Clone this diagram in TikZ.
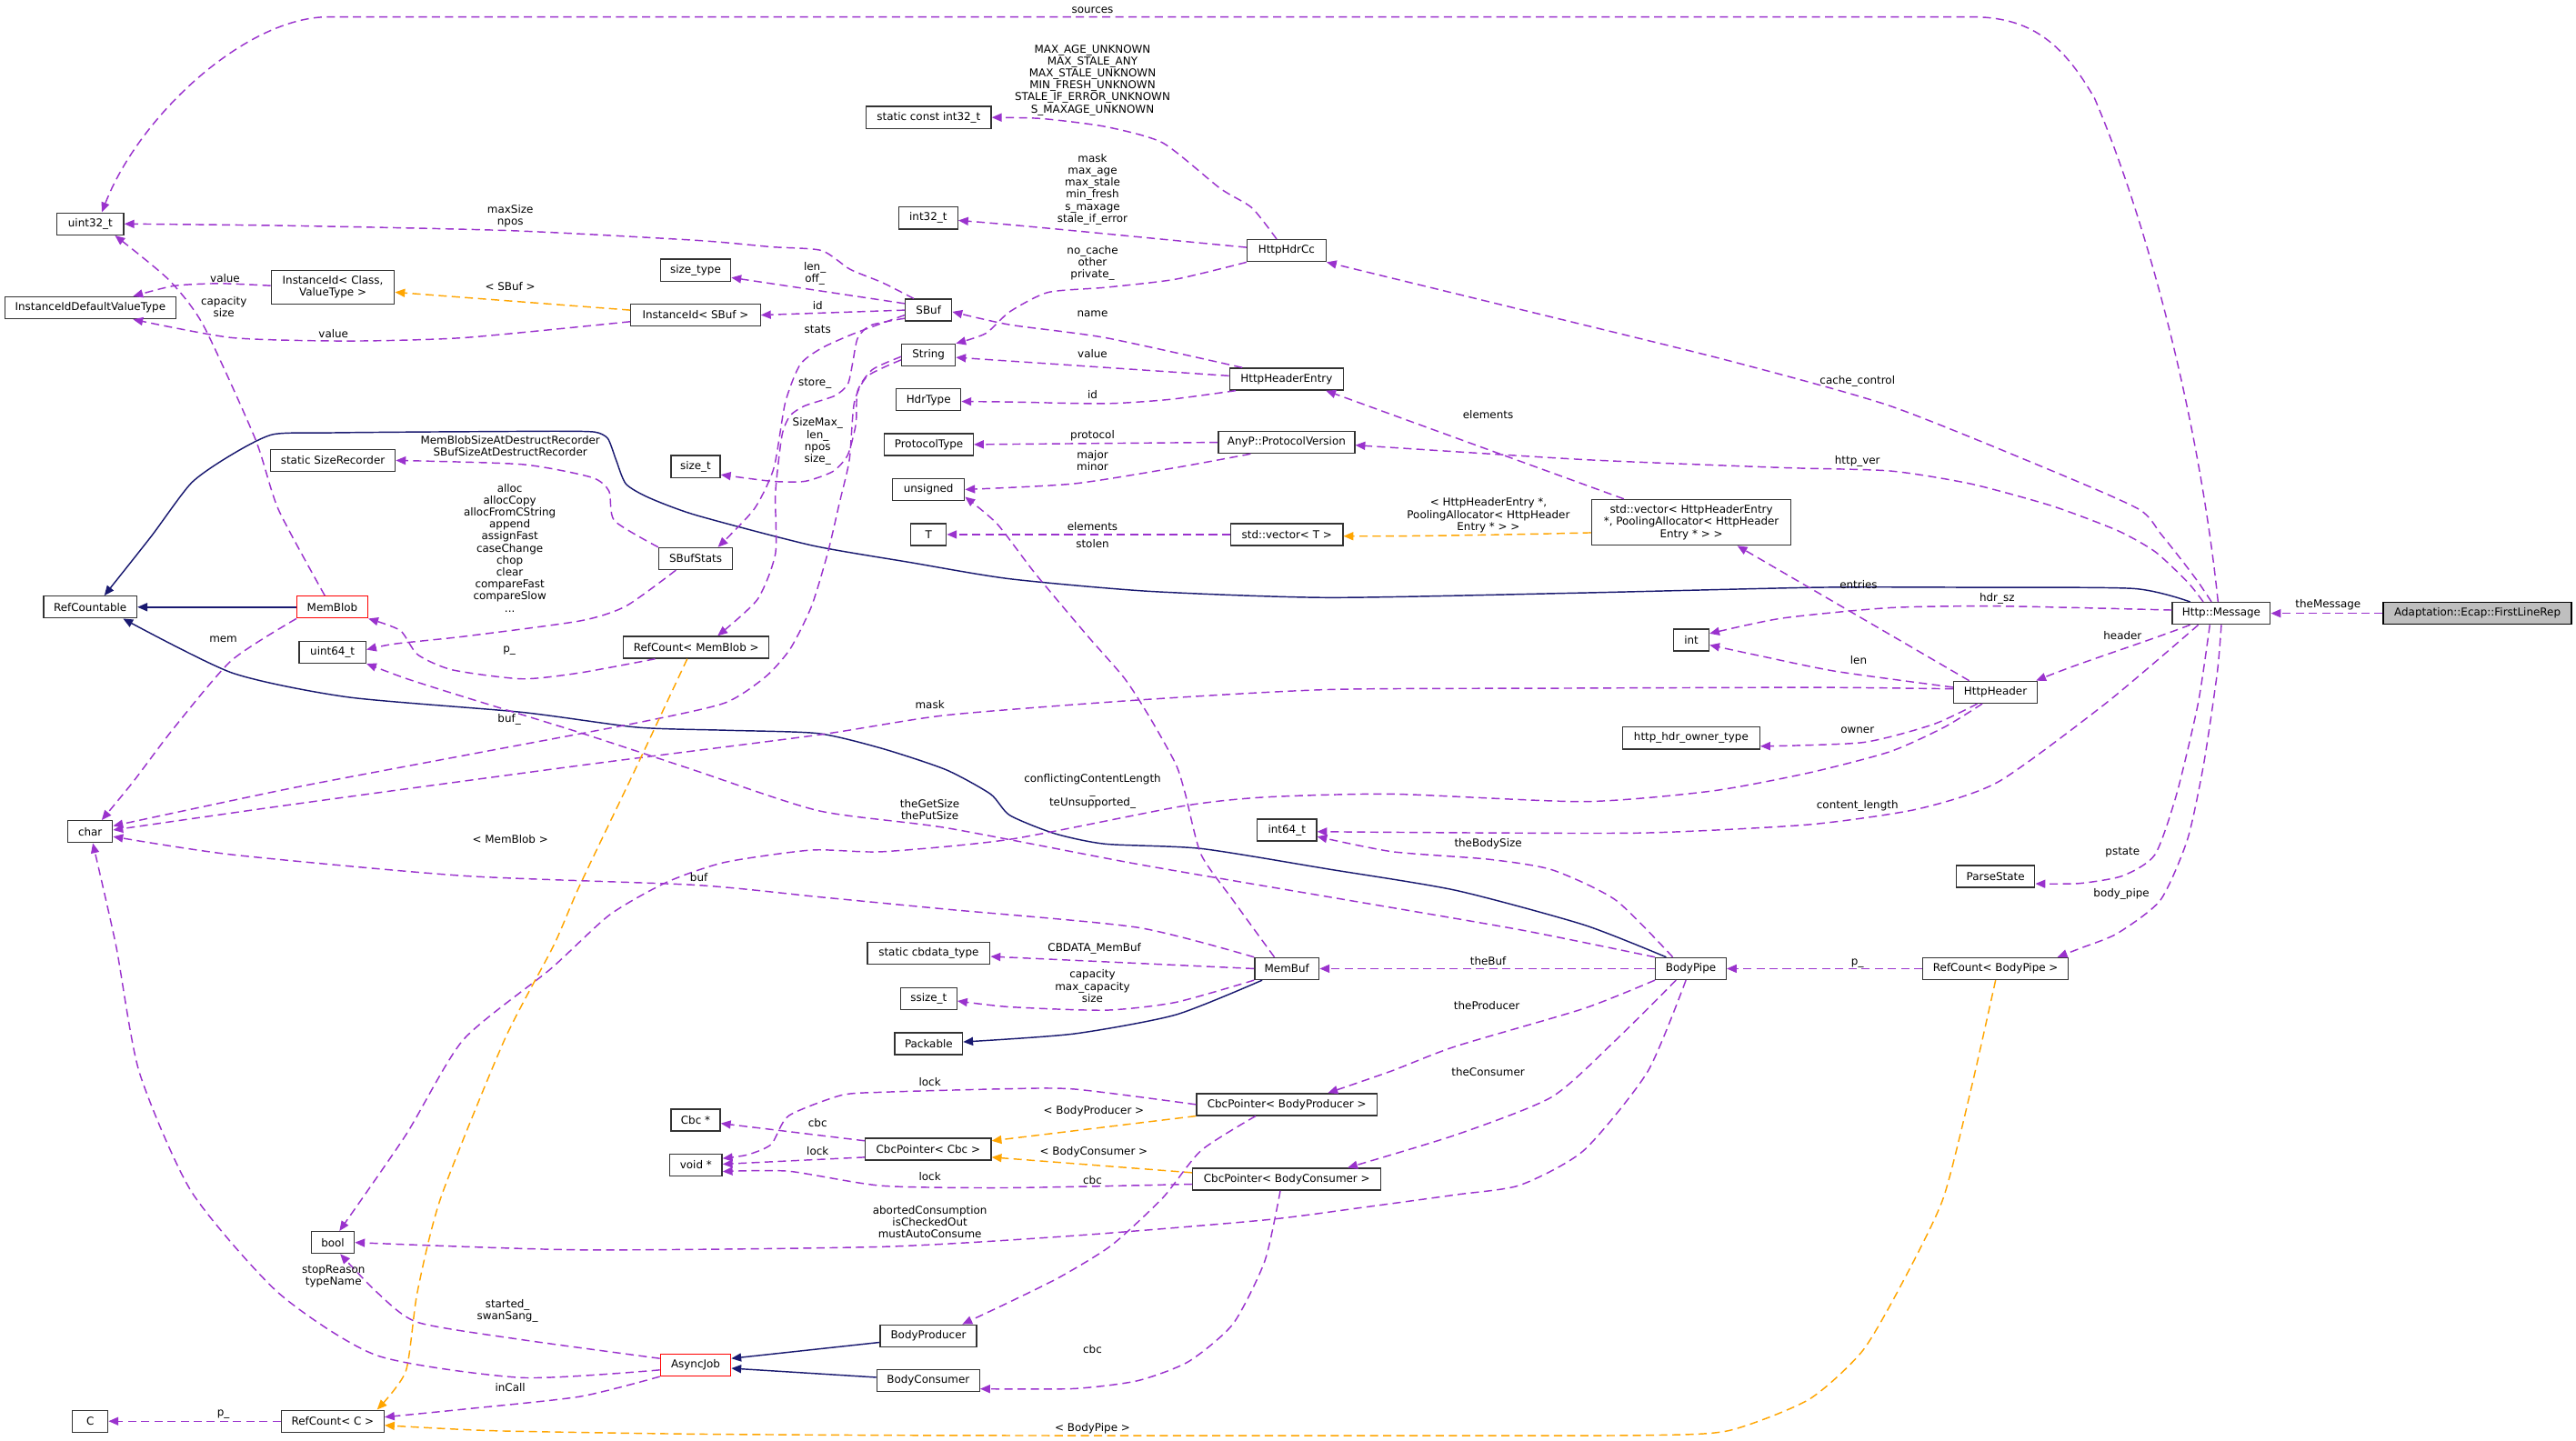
\documentclass[tikz,border=0pt]{standalone}
\usepackage{fontspec}
\setmainfont{DejaVu Sans}
\usetikzlibrary{arrows.meta}
\definecolor{purp}{HTML}{9A32CD}
\definecolor{orng}{HTML}{FFA500}
\definecolor{mblue}{HTML}{191970}
\definecolor{boxgray}{HTML}{BFBFBF}
\begin{document}
\begin{tikzpicture}[x=1pt,y=-1pt,font=\fontsize{6.6pt}{7.3pt}\selectfont,
  box/.style={draw=black!80,line width=0.75pt,fill=white,inner xsep=2pt,inner ysep=3.4pt,minimum height=13.3pt,align=center},
  redbox/.style={box,draw=red},
  graybox/.style={box,draw=black,fill=boxgray},
  mw/.style={minimum width=#1},
  lbl/.style={inner sep=0pt,align=center},
  ed/.style={color=purp,line width=0.8pt,dash pattern=on 5pt off 3pt,-{Triangle[length=6pt,width=5pt]}},
  tp/.style={ed,color=orng},
  inh/.style={color=mblue,line width=0.8pt,-{Triangle[length=6pt,width=5pt]}},
  sm/.style={smooth,tension=0.4}]
\useasboundingbox (0,0) rectangle (1568,877);
\fill[white] (0,0) rectangle (1568,877);

% ---------------- nodes
\node[box,mw=40.6pt] (nu32) at (55,136.3) {uint32\_t};
\node[box,mw=104pt] (niidv) at (55,187.4) {InstanceIdDefaultValueType};
\node[box,mw=75pt] (niidcv) at (202.6,174.9) {InstanceId< Class,\\ValueType >};
\node[box,mw=78.8pt] (niids) at (423.4,191.8) {InstanceId< SBuf >};
\node[box,mw=42.8pt] (nsizetype) at (423.4,164.5) {size\_type};
\node[box,mw=76pt] (nsizerec) at (202.6,280.3) {static SizeRecorder};
\node[box,mw=30pt] (nsizet) at (423.4,284) {size\_t};
\node[box,mw=76pt] (nsci32) at (565.3,71.5) {static const int32\_t};
\node[box,mw=36pt] (ni32) at (565,132.7) {int32\_t};
\node[box,mw=48pt] (nhdrcc) at (783.1,152.6) {HttpHdrCc};
\node[box,mw=28.2pt] (nsbuf) at (565.2,188.8) {SBuf};
\node[box,mw=32.6pt] (nstring) at (565.2,216.1) {String};
\node[box,mw=39.3pt] (nhdrtype) at (565.2,243.4) {HdrType};
\node[box,mw=54pt] (nprot) at (565.4,270.6) {ProtocolType};
\node[box,mw=43.7pt] (nuns) at (565.2,298) {unsigned};
\node[box,mw=21.6pt] (nT) at (565.2,325.4) {T};
\node[box,mw=69.2pt] (nhhe) at (783.1,230.8) {HttpHeaderEntry};
\node[box,mw=83pt] (napv) at (783.1,269.3) {AnyP::ProtocolVersion};
\node[box,mw=68.2pt] (nvecT) at (783.3,325.4) {std::vector< T >};
\node[box,mw=121.4pt] (nvecH) at (1029.5,318) {std::vector< HttpHeaderEntry\\ *, PoolingAllocator< HttpHeader\\Entry * > >};
\node[box,mw=21.5pt] (nint) at (1029.5,389.7) {int};
\node[box,mw=83.5pt] (nowner) at (1029.4,449.3) {http\_hdr\_owner\_type};
\node[box,mw=59.6pt] (nmsg) at (1352.1,373.4) {Http::Message};
\node[graybox,mw=114.6pt] (nflr) at (1508,373.4) {Adaptation::Ecap::FirstLineRep};
\node[box,mw=50.8pt] (nhdr) at (1214.6,421.4) {HttpHeader};
\node[box,mw=47.7pt] (npstate) at (1214.7,533.5) {ParseState};
\node[box,mw=88.5pt] (nrcbp) at (1214.7,589.7) {RefCount< BodyPipe >};
\node[box,mw=43pt] (nbp) at (1029.2,589.7) {BodyPipe};
\node[box,mw=39.2pt] (nmembuf) at (783.3,589.7) {MemBuf};
\node[box,mw=74.6pt] (ncbdata) at (565.3,580.3) {static cbdata\_type};
\node[box,mw=34.2pt] (nssizet) at (565.3,607.9) {ssize\_t};
\node[box,mw=41.2pt] (npack) at (565.3,635.3) {Packable};
\node[box,mw=109.9pt] (ncbpp) at (783.3,672.4) {CbcPointer< BodyProducer >};
\node[box,mw=76.5pt] (ncbpc) at (565,699.5) {CbcPointer< Cbc >};
\node[box,mw=114.6pt] (ncbpcons) at (783.3,717.9) {CbcPointer< BodyConsumer >};
\node[box,mw=58.6pt] (nbprod) at (565.1,813.2) {BodyProducer};
\node[box,mw=62.5pt] (nbcons) at (565,840.5) {BodyConsumer};
\node[box,mw=30pt] (ncbcptr) at (423.4,681.9) {Cbc *};
\node[box,mw=31.8pt] (nvoid) at (423.6,709.2) {void *};
\node[box,mw=26.1pt] (nbool) at (202.6,756.4) {bool};
\node[redbox,mw=42.8pt] (nasync) at (423.4,831) {AsyncJob};
\node[box,mw=21.6pt] (nC) at (54.9,865.2) {C};
\node[box,mw=62.5pt] (nrcC) at (202.5,865.2) {RefCount< C >};
\node[box,mw=56.8pt] (nrefc) at (54.9,369.6) {RefCountable};
\node[redbox,mw=43.1pt] (nmemblob) at (202.3,369.6) {MemBlob};
\node[box,mw=40.6pt] (nu64) at (202.4,397) {uint64\_t};
\node[box,mw=44.8pt] (nsbs) at (423.4,340.1) {SBufStats};
\node[box,mw=88.6pt] (nrcmb) at (423.8,394.1) {RefCount< MemBlob >};
\node[box,mw=27.2pt] (nchar) at (54.9,506.3) {char};
\node[box,mw=36.1pt] (ni64) at (783.3,505.3) {int64\_t};

% ---------------- inheritance
\draw[inh] plot[sm] coordinates {([xshift=-19pt]nmsg.north) (1298.6,358.3) (1200,357.6) (1107,357.6) (960,361) (808.7,363.8) (700,360) (614.6,352.4) (553.5,342.3) (494,332) (423.6,313.6) (395,303) (381,294.6) (375,280) (370,267) (362,263) (340,262.5) (300,262.7) (250,263) (200,263.5) (166,264.5) (141,276.8) (116.5,294) (92,326.6) ([xshift=8.6pt]nrefc.north)};
\draw[inh] (nmemblob.west) -- (nrefc.east);
\draw[inh] plot[sm] coordinates {([xshift=-15pt]nbp.north) (964,563) (886,542) (808,529) (731,516.6) (672.8,513.8) (641.8,507.4) (614.6,496.3) (602.9,483.4) (575.8,468.6) (537,455.7) (498,446.5) (443,444.6) (388,442.8) (317.7,433.6) (211.8,424.4) (141.2,409.6) ([xshift=20pt]nrefc.south)};
\draw[inh] ([yshift=-4pt]nbprod.west) -- ([yshift=4pt]nasync.east);
\draw[inh] ([yshift=2pt]nbcons.west) -- ([yshift=-2pt]nasync.east);
\draw[inh] plot[sm] coordinates {([xshift=-15pt]nmembuf.south) (715.6,617.8) (653.4,629.4) ([yshift=1pt]npack.east)};

% ---------------- usage (purple)
\draw[ed] ([xshift=-2pt]nmsg.north) .. controls (1338,250) and (1305,130) .. (1275,60) .. controls (1255,25) and (1235,10.3) .. (1200,10.3) -- (200,10.3) .. controls (150,10.3) and (85,70) .. ([xshift=7pt]nu32.north);
\draw[ed] plot[sm] coordinates {([xshift=-6pt]nhdrcc.north) (762,126.5) (742.7,114.7) (707.8,87) (672.8,77.1) (634,72.2) (nsci32.east)};
\draw[ed] ([yshift=2pt]nhdrcc.west) .. controls (700,145) and (620,137) .. ([yshift=-1.5pt]ni32.east);
\draw[ed] plot[sm] coordinates {(nhdrcc.south west) (715.6,170) (672.8,175) (637.9,178) (614.6,189.8) (600,203) (nstring.north east)};
\draw[ed] plot[sm] coordinates {([xshift=8pt]nhhe.north west) (672.8,205.6) (614.6,197.7) ([yshift=-1pt]nsbuf.east)};
\draw[ed] ([yshift=2pt]nhhe.west) -- ([yshift=-1.5pt]nstring.east);
\draw[ed] plot[sm] coordinates {([xshift=4pt]nhhe.south west) (711.7,243.2) (672.8,245.7) (614.6,244.7) ([yshift=-1pt]nhdrtype.east)};
\draw[ed] (napv.west) -- (nprot.east);
\draw[ed] plot[sm] coordinates {([xshift=20pt]napv.south west) (715.6,284.7) (653.4,294.5) (nuns.east)};
\draw[ed] (nvecT.west) -- (nT.east);
\draw[ed] ([xshift=20pt]nvecH.north west) -- ([xshift=-11pt]nhhe.south east);
\draw[ed] ([xshift=-16pt]nhdr.north) -- ([xshift=28pt]nvecH.south);
\draw[ed] plot[sm] coordinates {([yshift=2pt]nmsg.west) (1216.3,369) (1150.4,370) (1084.5,376.4) ([yshift=4pt]nint.east)};
\draw[ed] plot[sm] coordinates {([yshift=3pt]nhdr.west) (1117.5,408.7) (1070,399) ([yshift=-3pt]nint.east)};
\draw[ed] plot[sm] coordinates {([xshift=-11pt]nhdr.south) (1176.7,441) (1133.9,452) ([yshift=-5pt]nowner.east)};
\draw[ed] plot[sm] coordinates {([yshift=2pt]nhdr.west) (1107,418.5) (950,419) (808.7,419.8) (692.3,426.2) (575.8,435.4) (498,447.4) (353,466) (176,490) ([yshift=1pt]nchar.east)};
\draw[ed] plot[sm] coordinates {([xshift=-8pt]nhdr.south) (1183.3,442.8) (1150.4,457.6) (1101,470.5) (1041.7,481.6) (964,488) (847.6,483.4) (770,485.3) (719.4,490.8) (614.6,511) (537,518.5) (494,517.5) (441,525) (406,537) (371,557) (335,590) (282,633) (247,691) ([xshift=4pt]nbool.north)};
\draw[ed] plot[sm] coordinates {([xshift=-9pt]nsbuf.north) (537,172) (517.5,164) (500,152.5) (469.5,150.3) (423.6,146.3) (310.6,140.4) (176.5,137.4) (nu32.east)};
\draw[ed] ([yshift=4pt]nsbuf.west) -- ([yshift=-4.5pt]nsizetype.east);
\draw[ed] (nsbuf.west) -- (niids.east);
\draw[ed] plot[sm] coordinates {([yshift=-3pt]nsbuf.west) (520,203) (500,212) (487,222) (478,245) (471,285) (459,310) ([xshift=13.6pt]nsbs.north)};
\draw[ed] plot[sm] coordinates {([yshift=-5pt]nsbuf.west) (530,198) (522,206) (519,221) (516,234) (508,241) (490,247) (481,253) (476,265) (472,300) (472,337) (461,365) ([xshift=13pt]nrcmb.north)};
\draw[ed] plot[sm] coordinates {([yshift=-1pt]nstring.west) (531,225) (522,238) (521,258) (516,277) (507,287) (490,293) (470,293) ([yshift=-5pt]nsizet.east)};
\draw[ed] plot[sm] coordinates {([yshift=-3pt]nstring.west) (528,229) (520,245) (517,280) (511,306) (504,336) (494,369) (481,395) (466,412) (441,428) (388,440) (282,460) (176.5,480) ([yshift=3.5pt]nchar.east)};
\draw[ed] plot[sm] coordinates {([xshift=-4.6pt]nmemblob.north) (169.4,310) (155.3,267) (123.6,197.7) (102.4,170) ([xshift=15pt]nu32.south)};
\draw[ed] plot[sm] coordinates {(nmemblob.south west) (141,402) (106,443) (81,476) ([xshift=7pt]nchar.north)};
\draw[ed] plot[sm] coordinates {([yshift=-4pt]niids.west) (282.4,205.6) (211.8,207.6) (141.2,205.6) ([xshift=26pt]niidv.south)};
\draw[ed] plot[sm] coordinates {([yshift=1pt]niidcv.west) (134,172.6) (106,174) ([xshift=26pt]niidv.north)};
\draw[ed] plot[sm] coordinates {(nsbs.north west) (374,317) (370.7,299) (360,290.6) (317.7,282.7) (nsizerec.east)};
\draw[ed] plot[sm] coordinates {([xshift=-12pt]nsbs.south) (381,369) (353,378) (282,387.5) (240,392) ([yshift=1.5pt]nu64.east)};
\draw[ed] plot[sm] coordinates {([xshift=-25pt]nrcmb.south) (353,409.6) (317.7,413.3) (275.3,407.8) (254.2,398.5) (243.6,383.8) (nmemblob.south east)};
\draw[ed] plot[sm] coordinates {(nbp.north west) (925,566) (808.7,546) (692,526) (576,504) (498,493.5) (420,468) (353,446) (280,423.5) (247,413) (nu64.south east)};
\draw[ed] plot[sm] coordinates {(nmembuf.north west) (692.3,564.6) (575.8,553.5) (498,546) (423.6,538.8) (282.4,533.2) (141.2,520.3) ([yshift=-3pt]nchar.east)};
\draw[ed] (nmembuf.west) -- ([yshift=-2pt]ncbdata.east);
\draw[ed] plot[sm] coordinates {(nmembuf.south west) (715.6,610.2) (672.8,615) (614.6,613) ([yshift=-1.5pt]nssizet.east)};
\draw[ed] plot[sm] coordinates {([xshift=-7.6pt]nmembuf.north) (750.5,548) (731,520) (721.4,483) (715.6,465) (700,437) (684.5,413) (661,386) (630,349) (607,319) ([yshift=-4.5pt]nuns.east)};
\draw[ed] (nbp.west) -- (nmembuf.east);
\draw[ed] plot[sm] coordinates {(nbp.south west) (964,614) (886,637) (847,652) ([xshift=25pt]ncbpp.north)};
\draw[ed] plot[sm] coordinates {([xshift=-9pt]nbp.south) (983.5,633.2) (944.6,667.8) (886.4,690.8) ([xshift=37pt]ncbpcons.north)};
\draw[ed] plot[sm] coordinates {([xshift=-3pt]nbp.south) (1002.9,652.4) (964,700.4) (925.2,721.5) (886.4,727.3) (830,735) (770,742.7) (653.4,752.3) (537,759) (353,760.9) (nbool.east)};
\draw[ed] (nflr.west) -- (nmsg.east);
\draw[ed] ([xshift=-19pt]nmsg.south) .. controls (1300,393) and (1270,402) .. ([xshift=-1pt]nhdr.north east);
\draw[ed] plot[sm] coordinates {([xshift=-7pt]nmsg.south) (1338,428) (1324.9,483.4) (1311.7,520.3) (1292,533.2) (1265.7,537.8) ([yshift=-4.5pt]npstate.east)};
\draw[ed] plot[sm] coordinates {(nmsg.south) (1349.6,409.6) (1341.4,465) (1331.5,511) (1315,548) (1288.7,568.3) (1265.7,577.5) ([xshift=-7pt]nrcbp.north east)};
\draw[ed] plot[sm] coordinates {([xshift=-14pt]nmsg.south) (1282,428) (1216.3,476) (1166.9,492.6) (1101,502) (1003,507) (900,507) ([yshift=-1pt]ni64.east)};
\draw[ed] plot[sm] coordinates {([xshift=-11pt]nbp.north) (983.5,548) (944.6,529.5) (905.8,523.1) (847.6,518.5) ([yshift=-4pt]ni64.east)};
\draw[ed] plot[sm] coordinates {([xshift=-6pt]nmsg.north) (1338,354.3) (1328.2,341.3) (1315,324.7) (1301.9,310) (1249.2,286.7) (1150.4,247.1) (1051.6,219.4) (930,189.5) (nhdrcc.south east)};
\draw[ed] plot[sm] coordinates {([xshift=-11pt]nmsg.north) (1331.5,354.3) (1311.7,335.8) (1288.7,322.9) (1249,308) (1199.8,294.6) (1150.4,286.7) (1084.5,284.7) (964,279.8) ([yshift=-1.7pt]napv.east)};
\draw[ed] plot[sm] coordinates {(ncbpp.west) (653.4,663) (606.8,663) (537,664.9) (511.9,666.8) (480,679.3) (469.5,696.6) (455,703) ([yshift=4pt]nvoid.east)};
\draw[ed] ([yshift=5pt]ncbpc.west) -- ([yshift=-2pt]ncbcptr.east);
\draw[ed] ([yshift=-5pt]ncbpc.west) -- ([yshift=0.5pt]nvoid.east);
\draw[ed] plot[sm] coordinates {([yshift=-3pt]ncbpcons.west) (614.6,723.1) (537,721.9) (480,713) ([yshift=-4pt]nvoid.east)};
\draw[ed] plot[sm] coordinates {([xshift=-19pt]ncbpp.south) (731.1,700.4) (707.8,729.2) (676.7,758) (645.6,777.2) (614.6,792.6) ([xshift=-9pt]nbprod.north east)};
\draw[ed] plot[sm] coordinates {([xshift=-4pt]ncbpcons.south) (769.9,767.6) (750.5,806) (723.3,829) (692.3,840.6) (653.4,845.4) ([yshift=-5pt]nbcons.east)};
\draw[ed] plot[sm] coordinates {([yshift=4pt]nasync.west) (317.7,815.6) (254.2,805) (229.5,786.8) ([xshift=4.5pt]nbool.south)};
\draw[ed] plot[sm] coordinates {([yshift=-3pt]nasync.west) (317.7,838.7) (229.5,825.2) (169.4,787) (116.5,725.4) (84.7,652.4) (70.6,575.6) ([xshift=1.6pt]nchar.south)};
\draw[ed] plot[sm] coordinates {(nasync.south west) (353,850.2) (282.4,857.9) ([yshift=2.5pt]nrcC.east)};
\draw[ed] (nrcC.west) -- (nC.east);
\draw[ed] (nrcbp.west) -- (nbp.east);

% ---------------- template instances (orange)
\draw[tp] ([yshift=3pt]niids.west) -- ([yshift=-3pt]niidcv.east);
\draw[tp] ([yshift=-6.3pt]nvecH.west) .. controls (900,326) and (850,326.5) .. ([yshift=-1pt]nvecT.east);
\draw[tp] plot[sm] coordinates {([xshift=-5.5pt]nrcmb.south) (388.3,465) (353,538.8) (337,575.6) (307,633.2) (268.3,729.2) (254,786.8) (247,834.8) ([xshift=27pt]nrcC.north)};
\draw[tp] plot[sm] coordinates {(nrcbp.south) (1200,662) (1183,729) (1160,777) (1134,822) (1101,852) (1052,871) (1000,873.8) (850,874) (700,874) (553,873.8) (420,873) (300,871) ([yshift=-2.5pt]nrcC.east)};
\draw[tp] (ncbpp.south west) -- ([yshift=5pt]ncbpc.east);
\draw[tp] ([yshift=4pt]ncbpcons.west) -- ([yshift=-5pt]ncbpc.east);

% ---------------- labels
\node[lbl] (lsources) at (665,6.5) {sources};
\node[lbl] (lmaxage) at (665,48.8) {MAX\_AGE\_UNKNOWN\\MAX\_STALE\_ANY\\MAX\_STALE\_UNKNOWN\\MIN\_FRESH\_UNKNOWN\\STALE\_IF\_ERROR\_UNKNOWN\\S\_MAXAGE\_UNKNOWN};
\node[lbl] (lmask1) at (665,115.2) {mask\\max\_age\\max\_stale\\min\_fresh\\s\_maxage\\stale\_if\_error};
\node[lbl] (lnocache) at (665,160.2) {no\_cache\\other\\private\_};
\node[lbl] (lmaxsize) at (310.6,131.5) {maxSize\\npos};
\node[lbl] (llenoff) at (496,166.7) {len\_\\off\_};
\node[lbl] (lid1) at (497.7,185.8) {id};
\node[lbl] (lstats) at (497.7,200.7) {stats};
\node[lbl] (lvalue1) at (137,169.4) {value};
\node[lbl] (lsbuft) at (310.6,174.6) {< SBuf >};
\node[lbl] (lvalue2) at (203,203) {value};
\node[lbl] (lcapsize) at (136.3,187) {capacity\\size};
\node[lbl] (lstore) at (496,233.3) {store\_};
\node[lbl] (lsizemax) at (497.7,268.8) {SizeMax\_\\len\_\\npos\\size\_};
\node[lbl] (lrecorder) at (310.6,271.5) {MemBlobSizeAtDestructRecorder\\SBufSizeAtDestructRecorder};
\node[lbl] (lalloc) at (310.3,333.5) {alloc\\allocCopy\\allocFromCString\\append\\assignFast\\caseChange\\chop\\clear\\compareFast\\compareSlow\\...};
\node[lbl] (lname) at (665,191) {name};
\node[lbl] (lvalue3) at (665,215.5) {value};
\node[lbl] (lid2) at (665,240) {id};
\node[lbl] (lprotocol) at (665,265.5) {protocol};
\node[lbl] (lmajmin) at (665,280.5) {major\\minor};
\node[lbl] (lelem1) at (665,320.6) {elements};
\node[lbl] (lstolen) at (665,331.2) {stolen};
\node[lbl] (lvect) at (906,313.7) {< HttpHeaderEntry *,\\PoolingAllocator< HttpHeader\\Entry * > >};
\node[lbl] (lelem2) at (905.8,252.3) {elements};
\node[lbl] (lentries) at (1131.3,356.1) {entries};
\node[lbl] (lhdrsz) at (1215.6,364.4) {hdr\_sz};
\node[lbl] (lthemsg) at (1417.1,368) {theMessage};
\node[lbl] (lheader) at (1292,386.9) {header};
\node[lbl] (llen) at (1131.3,401.7) {len};
\node[lbl] (lowner) at (1130.6,444.7) {owner};
\node[lbl] (lcontent) at (1130.6,490.8) {content\_length};
\node[lbl] (lcache) at (1130.6,232.3) {cache\_control};
\node[lbl] (lhttpver) at (1130.6,280.7) {http\_ver};
\node[lbl] (lpstate) at (1292,519) {pstate};
\node[lbl] (lbodypipe) at (1291.3,544.3) {body\_pipe};
\node[lbl] (lpbp) at (1130.6,586.2) {p\_};
\node[lbl] (lmem) at (135.9,389.3) {mem};
\node[lbl] (lpmb) at (310,396.1) {p\_};
\node[lbl] (lbufu) at (310,438.2) {buf\_};
\node[lbl] (lmask2) at (566,429) {mask};
\node[lbl] (lconflict) at (665,481.9) {conflictingContentLength\\\_\\teUnsupported\_};
\node[lbl] (lgetput) at (566,492.8) {theGetSize\\thePutSize};
\node[lbl] (lmbt) at (310.6,511.1) {< MemBlob >};
\node[lbl] (lbodysize) at (905.8,513.5) {theBodySize};
\node[lbl] (lbuf) at (425.4,534.1) {buf};
\node[lbl] (lcbdata) at (666.2,577.5) {CBDATA\_MemBuf};
\node[lbl] (lthebuf) at (905.8,584.8) {theBuf};
\node[lbl] (lcapmax) at (665,600.3) {capacity\\max\_capacity\\size};
\node[lbl] (lprod) at (905,611.9) {theProducer};
\node[lbl] (lcons) at (905.8,652.8) {theConsumer};
\node[lbl] (llock1) at (566,658.6) {lock};
\node[lbl] (lbpt) at (665.8,676.6) {< BodyProducer >};
\node[lbl] (lcbc1) at (497.7,683.7) {cbc};
\node[lbl] (llock2) at (497.7,701) {lock};
\node[lbl] (lbct) at (665.8,701.4) {< BodyConsumer >};
\node[lbl] (llock3) at (566,716.4) {lock};
\node[lbl] (lcbc2) at (665,718.7) {cbc};
\node[lbl] (laborted) at (566,744) {abortedConsumption\\isCheckedOut\\mustAutoConsume};
\node[lbl] (lstop) at (203,777) {stopReason\\typeName};
\node[lbl] (lstarted) at (308.9,797.9) {started\_\\swanSang\_};
\node[lbl] (lcbc3) at (665,821.4) {cbc};
\node[lbl] (lincall) at (310.6,844.4) {inCall};
\node[lbl] (lpC) at (135.9,861.2) {p\_};
\node[lbl] (lbpt2) at (665,869.4) {< BodyPipe >};
\end{tikzpicture}
\end{document}
